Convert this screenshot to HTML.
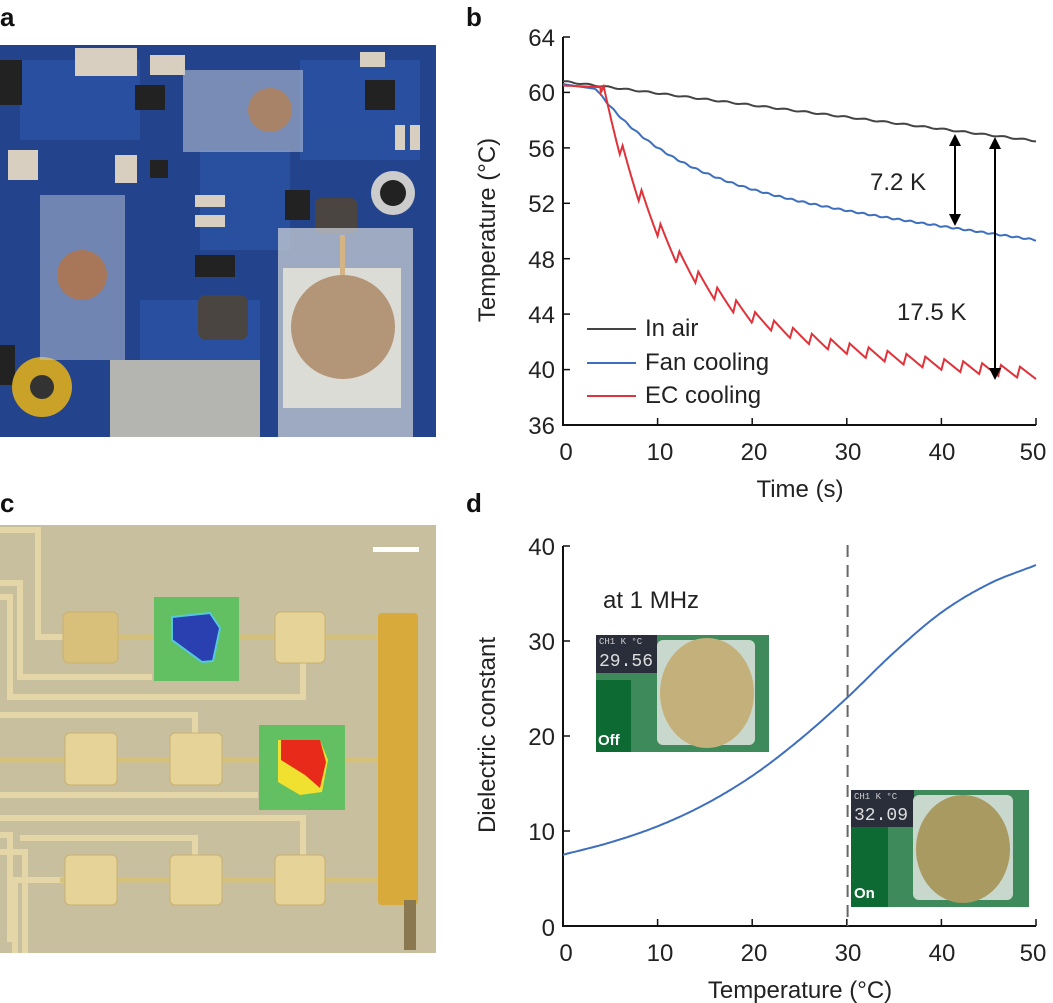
<!DOCTYPE html>
<html><head><meta charset="utf-8"><style>
body{margin:0;background:#fff;width:1053px;height:1003px;overflow:hidden;font-family:"Liberation Sans",sans-serif;}
svg{position:absolute;left:0;top:0}
</style></head><body>
<svg width="1053" height="1003" viewBox="0 0 1053 1003" font-family="Liberation Sans, sans-serif">
<g font-weight="bold" font-size="26" fill="#111">
<text x="0" y="26">a</text><text x="466" y="26">b</text>
<text x="0" y="512">c</text><text x="466" y="512">d</text></g>

<!-- Panel a photo -->
<rect x="0" y="45" width="436" height="392" fill="#23438c"/>
<g fill="#2c55a8" opacity="0.7">
<rect x="20" y="60" width="120" height="80"/><rect x="200" y="150" width="90" height="100"/><rect x="300" y="60" width="120" height="100"/><rect x="140" y="300" width="120" height="60"/></g>
<g fill="#d8cfc0">
<rect x="75" y="48" width="62" height="28"/><rect x="195" y="195" width="30" height="12"/><rect x="195" y="215" width="30" height="12"/><rect x="8" y="150" width="30" height="30"/><rect x="115" y="155" width="22" height="28"/><rect x="395" y="125" width="10" height="25"/><rect x="410" y="125" width="10" height="25"/><rect x="150" y="55" width="35" height="20"/><rect x="360" y="52" width="25" height="15"/></g>
<g fill="#222"><rect x="150" y="160" width="18" height="18"/><rect x="195" y="255" width="40" height="22"/><rect x="285" y="190" width="25" height="30"/><rect x="365" y="80" width="30" height="30"/><rect x="135" y="85" width="30" height="25"/><rect x="0" y="60" width="22" height="45"/><rect x="0" y="345" width="15" height="40"/></g>
<rect x="198" y="295" width="50" height="45" rx="8" fill="#4a4540"/>
<rect x="315" y="198" width="42" height="35" rx="6" fill="#4a4540"/>
<rect x="110" y="360" width="150" height="77" fill="#b4b4b0"/>
<circle cx="393" cy="193" r="22" fill="#ccc"/><circle cx="393" cy="193" r="13" fill="#222"/>
<circle cx="42" cy="387" r="30" fill="#c9a227"/><circle cx="42" cy="387" r="12" fill="#333"/>
<rect x="183" y="70" width="120" height="82" fill="#c0c8d8" opacity="0.55"/>
<circle cx="270" cy="110" r="22" fill="#a88368"/>
<rect x="40" y="195" width="85" height="165" fill="#c0c8d8" opacity="0.5"/>
<circle cx="82" cy="275" r="25" fill="#a8775a"/>
<rect x="278" y="228" width="135" height="209" fill="#c8ccd4" opacity="0.75"/>
<rect x="283" y="268" width="118" height="140" fill="#dcdcd6"/>
<circle cx="343" cy="327" r="52" fill="#b39577"/>
<rect x="340" y="235" width="5" height="40" fill="#d4b485"/>

<!-- Panel c photo -->
<rect x="0" y="525" width="436" height="428" fill="#c7bf9d"/>
<g fill="none" stroke="#e4d6a6" stroke-width="6">
<path d="M0 530 H38 V637 H70"/><path d="M0 583 H20 V677 H152"/><path d="M0 597 H10 V697 H303 V663"/>
<path d="M0 715 H195 V733"/><path d="M0 795 H258"/><path d="M0 818 H303 V855"/>
<path d="M0 835 H10 V942"/><path d="M0 852 H25 V953"/><path d="M15 953 V880 H65"/>
<path d="M20 838 H195 V855"/></g>
<g stroke="#d6c17a" stroke-width="5"><line x1="110" y1="637" x2="400" y2="637"/><line x1="0" y1="760" x2="400" y2="760"/><line x1="60" y1="880" x2="400" y2="880"/></g>
<rect x="378" y="613" width="40" height="292" rx="4" fill="#d8aa3c"/>
<rect x="404" y="900" width="12" height="50" fill="#8a7850"/>
<g fill="#e6d398" stroke="#cbb070" stroke-width="1">
<rect x="63" y="612" width="55" height="51" rx="6" fill="#d8c07a"/><rect x="275" y="612" width="50" height="51" rx="6"/>
<rect x="65" y="733" width="52" height="52" rx="5"/><rect x="170" y="733" width="52" height="52" rx="5"/>
<rect x="65" y="855" width="52" height="50" rx="5"/><rect x="170" y="855" width="52" height="50" rx="5"/><rect x="275" y="855" width="50" height="50" rx="5"/></g>
<rect x="154" y="597" width="85" height="84" fill="#62c062"/>
<path d="M172 617 L210 613 L220 628 L213 661 L202 662 L172 640 Z" fill="#2a3fb0" stroke="#55c8e0" stroke-width="2"/>
<rect x="259" y="725" width="86" height="85" fill="#62c062"/>
<path d="M278 740 H320 L328 760 L322 792 L300 795 L278 782 Z" fill="#f0e030"/>
<path d="M281 740 H320 L326 762 L320 788 L305 775 L281 760 Z" fill="#e82a1a"/>
<rect x="373" y="547" width="46" height="5" fill="#fff"/>

<!-- Panel b -->
<path d="M563 37 V425 H1036" stroke="#111" stroke-width="2" fill="none"/>
<g stroke="#111" stroke-width="1.5">
<line x1="563" y1="37" x2="570" y2="37"/><line x1="563" y1="92.4" x2="570" y2="92.4"/><line x1="563" y1="147.9" x2="570" y2="147.9"/><line x1="563" y1="203.3" x2="570" y2="203.3"/><line x1="563" y1="258.7" x2="570" y2="258.7"/><line x1="563" y1="314.1" x2="570" y2="314.1"/><line x1="563" y1="369.6" x2="570" y2="369.6"/>
<line x1="657.6" y1="425" x2="657.6" y2="418"/><line x1="752.2" y1="425" x2="752.2" y2="418"/><line x1="846.8" y1="425" x2="846.8" y2="418"/><line x1="941.4" y1="425" x2="941.4" y2="418"/><line x1="1036" y1="425" x2="1036" y2="418"/></g>
<g font-size="24" fill="#222" text-anchor="end">
<text x="555" y="46">64</text><text x="555" y="101">60</text><text x="555" y="157">56</text><text x="555" y="212">52</text><text x="555" y="268">48</text><text x="555" y="323">44</text><text x="555" y="378">40</text><text x="555" y="434">36</text></g>
<g font-size="24" fill="#222" text-anchor="middle">
<text x="566" y="460">0</text><text x="660" y="460">10</text><text x="754" y="460">20</text><text x="848" y="460">30</text><text x="942" y="460">40</text><text x="1033" y="460">50</text>
<text x="800" y="497">Time (s)</text>
<text transform="translate(495,230) rotate(-90)">Temperature (°C)</text></g>
<polyline id="air" fill="none" stroke="#444" stroke-width="2"/>
<polyline id="fan" fill="none" stroke="#3e6fbf" stroke-width="2"/>
<polyline id="ec" fill="none" stroke="#e0323a" stroke-width="2"/>
<g stroke="#000" stroke-width="2"><line x1="955" y1="140" x2="955" y2="220"/><line x1="995" y1="143" x2="995" y2="373"/></g>
<g fill="#000"><path d="M955 134 l-6 12 h12z"/><path d="M955 226 l-6 -12 h12z"/><path d="M995 137 l-6 12 h12z"/><path d="M995 380 l-6 -12 h12z"/></g>
<g font-size="24" fill="#222"><text x="870" y="190">7.2 K</text><text x="897" y="320">17.5 K</text>
<text x="645" y="336">In air</text><text x="645" y="370">Fan cooling</text><text x="645" y="403">EC cooling</text></g>
<g stroke-width="2"><line x1="587" y1="329" x2="636" y2="329" stroke="#444"/><line x1="587" y1="363" x2="636" y2="363" stroke="#3e6fbf"/><line x1="587" y1="396" x2="636" y2="396" stroke="#e0323a"/></g>

<!-- Panel d -->
<path d="M563 546 V926 H1036" stroke="#111" stroke-width="2" fill="none"/>
<g stroke="#111" stroke-width="1.5">
<line x1="563" y1="546" x2="570" y2="546"/><line x1="563" y1="641" x2="570" y2="641"/><line x1="563" y1="736" x2="570" y2="736"/><line x1="563" y1="831" x2="570" y2="831"/>
<line x1="657.6" y1="926" x2="657.6" y2="919"/><line x1="752.2" y1="926" x2="752.2" y2="919"/><line x1="846.8" y1="926" x2="846.8" y2="919"/><line x1="941.4" y1="926" x2="941.4" y2="919"/><line x1="1036" y1="926" x2="1036" y2="919"/></g>
<line x1="847.6" y1="545" x2="847.6" y2="926" stroke="#666" stroke-width="2" stroke-dasharray="12,8"/>
<g font-size="24" fill="#222" text-anchor="end">
<text x="555" y="555">40</text><text x="555" y="650">30</text><text x="555" y="745">20</text><text x="555" y="840">10</text><text x="555" y="936">0</text></g>
<g font-size="24" fill="#222" text-anchor="middle">
<text x="566" y="961">0</text><text x="660" y="961">10</text><text x="754" y="961">20</text><text x="848" y="961">30</text><text x="942" y="961">40</text><text x="1033" y="961">50</text>
<text x="800" y="998">Temperature (°C)</text>
<text transform="translate(495,735) rotate(-90)">Dielectric constant</text></g>
<text x="603" y="608" font-size="24" fill="#222">at 1 MHz</text>
<path id="dc" fill="none" stroke="#3e6fbf" stroke-width="2"/>
<rect x="596" y="635" width="173" height="117" fill="#3f8a5a"/>
<rect x="596" y="680" width="35" height="72" fill="#0d6a33"/>
<rect x="596" y="635" width="61" height="38" fill="#2a2e3a"/>
<text x="599" y="644" font-size="9" fill="#ccc" font-family="Liberation Mono, monospace">CH1 K °C</text>
<text x="599" y="666" font-size="18" fill="#ddd" font-family="Liberation Mono, monospace">29.56</text>
<text x="598" y="745" font-size="15" font-weight="bold" fill="#fff">Off</text>
<rect x="657" y="640" width="98" height="105" rx="6" fill="#c8d8cc"/>
<ellipse cx="707" cy="693" rx="47" ry="55" fill="#c4b07a"/>
<rect x="851" y="790" width="178" height="117" fill="#3f8a5a"/>
<rect x="851" y="827" width="37" height="80" fill="#0d6a33"/>
<rect x="851" y="790" width="63" height="37" fill="#2a2e3a"/>
<text x="854" y="799" font-size="9" fill="#ccc" font-family="Liberation Mono, monospace">CH1 K °C</text>
<text x="854" y="820" font-size="18" fill="#ddd" font-family="Liberation Mono, monospace">32.09</text>
<text x="854" y="898" font-size="15" font-weight="bold" fill="#fff">On</text>
<rect x="913" y="795" width="100" height="105" rx="6" fill="#c8d8cc"/>
<ellipse cx="963" cy="849" rx="47" ry="54" fill="#a89a60"/>
</svg>
<script>
function X(t){return 563+t*9.46}
function Y(T){return 425-(T-36)*13.857}
function set(id,f,n){var p=[];for(var i=0;i<=n;i++){var t=50*i/n;p.push(X(t).toFixed(1)+","+Y(f(t)).toFixed(1));}document.getElementById(id).setAttribute("points",p.join(" "));}
set("air",function(t){return 60.8-4.3*t/50+0.05*Math.sin(t*3)},200);
set("fan",function(t){if(t<3.5)return 60.6-0.1*t;var s=t-3.5;return 60.25-6.5*(1-Math.exp(-s/8))-0.095*s+0.05*Math.sin(t*5)},300);
(function(){
 function base(s){return 38.6+13*Math.exp(-s/6)+9*Math.exp(-s/22);}
 var p=[];
 for(var i=0;i<=1000;i++){var t=50*i/1000;var v;
  if(t<4){v=60.5-0.03*t;}
  else{var s=t-4,per=2.0,ph=(s%per)/per;var b=base(s);
   var amp=t<12?1.2:(t<20?1.0:0.8);
   v=b+amp*(ph<0.15?ph/0.15:(1-(ph-0.15)/0.85))-amp*0.5;}
  p.push(X(t).toFixed(1)+","+Y(v).toFixed(1));}
 document.getElementById("ec").setAttribute("points",p.join(" "));
})();
(function(){
 var P=[7.5,8.8,10.5,12.8,15.8,19.6,24,28.8,33,36,38];
 var d="";
 for(var i=0;i<=200;i++){var t=50*i/200;var k=Math.min(9,Math.floor(t/5)),u=t/5-k;
  var p0=P[Math.max(0,k-1)],p1=P[k],p2=P[k+1],p3=P[Math.min(10,k+2)];
  if(k==0)p0=2*p1-p2; if(k==9)p3=2*p2-p1;
  var v=0.5*((2*p1)+(-p0+p2)*u+(2*p0-5*p1+4*p2-p3)*u*u+(-p0+3*p1-3*p2+p3)*u*u*u);
  var x=563+t*9.46,y=926-v*9.5;d+=(i?"L":"M")+x.toFixed(1)+" "+y.toFixed(1);}
 document.getElementById("dc").setAttribute("d",d);})();
</script>
</body></html>
